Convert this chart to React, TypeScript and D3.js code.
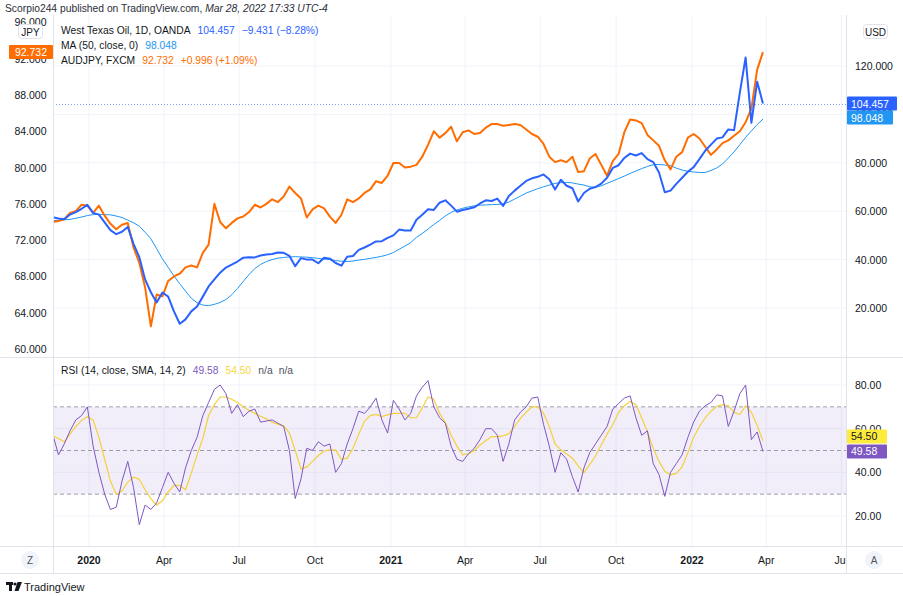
import * as d3 from "d3";

// weekly closes, first week Mon 2019-11-18, last point 2022-03-28
const START = new Date(2019, 10, 18);

const audjpy = [
  74.0, 74.1, 74.3, 75.0, 75.2, 75.9, 75.8, 75.0, 75.8, 74.7,
  73.8, 73.2, 73.7, 73.9, 71.2, 69.5, 66.8, 62.5, 66.0, 65.8,
  67.5, 68.0, 68.3, 69.0, 69.2, 69.0, 70.6, 71.5, 76.0, 74.0,
  73.3, 73.9, 74.4, 74.6, 75.1, 75.9, 75.6, 76.0, 76.5, 76.2,
  76.8, 77.9, 77.2, 76.6, 74.5, 75.4, 75.8, 75.5, 74.6, 73.9,
  74.8, 76.5, 76.2, 76.6, 77.2, 77.6, 78.5, 78.3, 79.1, 80.5,
  80.5, 80.0, 80.1, 80.3, 81.2, 82.5, 84.0, 83.3, 83.8, 84.5,
  82.9, 83.9, 84.1, 83.7, 83.8, 84.4, 84.8, 84.8, 84.6, 84.7,
  84.8, 84.7, 84.2, 83.7, 83.4, 82.6, 81.2, 80.6, 80.8, 80.6,
  81.2, 79.5, 79.6, 81.0, 81.5, 80.3, 79.1, 80.7, 81.5, 83.9,
  85.3, 85.2, 84.9, 83.6, 83.0, 82.4, 80.8, 79.8, 81.2, 81.7,
  83.3, 83.7, 83.2, 82.3, 81.4, 82.0, 82.7, 83.0, 83.5, 84.0,
  85.0, 86.5, 90.8, 92.732,
];

const wti = [
  57.5, 57.0, 56.7, 58.6, 59.6, 61.0, 62.6, 59.3, 58.6, 55.4,
  52.2, 50.5, 51.5, 53.5, 46.5, 41.0, 31.8, 26.5, 22.3, 26.4,
  24.7, 18.6, 13.5, 15.3, 18.6, 20.6, 24.7, 28.9, 31.8, 34.6,
  36.7, 37.9, 39.2, 40.8, 41.0, 40.9, 41.7, 42.1, 42.3, 42.9,
  42.8, 41.5, 37.3, 40.6, 40.0, 40.0, 38.5, 40.8, 40.4, 38.6,
  37.5, 41.2, 41.5, 44.0, 45.0, 46.2, 47.5, 47.6, 49.0, 50.0,
  52.4, 52.0, 52.0, 56.5, 58.5, 60.8, 60.5, 63.5, 64.5, 62.3,
  59.8, 60.5, 61.0, 61.6, 63.2, 64.5, 64.2, 65.2, 62.2, 66.3,
  68.5, 70.5, 72.5, 73.6, 74.2, 75.2, 73.2, 69.0, 73.0, 70.5,
  69.5, 64.0, 67.5, 69.3, 70.0, 71.4, 73.8, 77.9, 79.0, 82.0,
  83.8, 83.0, 84.0, 81.5, 80.3, 76.0, 67.8, 68.5, 71.3, 73.8,
  76.3, 78.2, 81.5, 85.0, 87.5, 90.0, 90.5, 93.8, 93.5, 109.0,
  123.5, 96.5, 113.5, 104.457,
];

const wtiMa50 = [
  56.0, 56.3, 56.5, 56.6, 57.1, 57.6, 58.2, 58.6, 58.7, 58.6,
  58.5, 58.0, 57.4, 56.3, 55.2, 53.8, 51.3, 48.6, 44.5, 40.3,
  36.8, 33.2, 30.0, 27.0, 24.0, 22.2, 21.2, 21.0, 21.5, 22.3,
  23.5, 25.5, 28.0, 31.0, 33.8, 36.3, 38.0, 39.2, 40.0, 40.6,
  40.9, 41.1, 41.2, 41.1, 41.0, 40.8, 40.5, 40.2, 40.0, 39.6,
  39.3, 39.2, 39.4, 39.8, 40.1, 40.5, 40.9, 41.4, 42.0, 42.9,
  44.3, 45.6, 47.0, 49.2, 50.8, 52.6, 54.5, 56.2, 58.0, 59.5,
  60.5, 61.2, 61.8, 62.2, 62.5, 62.6, 62.7, 62.8, 63.0, 63.8,
  65.0, 66.2, 67.5, 68.4, 69.3, 70.1, 70.8, 71.5, 71.8, 71.9,
  71.7, 71.2, 70.8, 70.1, 69.8, 70.5, 71.5, 72.5, 73.5, 74.5,
  75.6, 76.6, 77.6, 78.5, 79.2, 79.3, 79.1, 78.8, 77.8, 77.0,
  76.5, 76.2, 76.0, 76.0, 76.8, 77.9, 79.5, 82.0, 84.5, 87.5,
  90.5, 93.2, 95.8, 98.048,
];

const rsi = [
  57.5, 48, 53, 59, 64, 66, 70, 52, 40, 30,
  23, 24, 36, 45, 33, 16, 25, 23, 26, 33,
  40, 35, 31, 42, 50, 56, 66, 72, 78, 80,
  76, 67, 71, 65.5, 68, 69, 63, 63.5, 64, 62.5,
  61, 50, 28, 37, 51, 50, 54, 52, 53, 40,
  44, 53, 60, 68, 67, 70, 74, 64, 58, 73,
  69, 64, 67, 75, 79, 82, 70, 65, 62.5, 52,
  46, 45, 48.5, 51, 55, 60, 60, 57, 45, 53,
  64, 67.5, 70, 74, 74.5, 62, 52, 40, 49, 46,
  38, 31, 42, 49, 53, 57, 61, 69, 71.5, 74,
  75, 65, 57, 59, 44, 39, 29, 40, 44, 48,
  56, 63, 68, 70.5, 72, 75.5, 75, 61, 68, 76,
  80, 55, 58.5, 49.58,
];

const rsiMa = [
  56.8, 55.5, 54, 57.5, 61, 63.8, 65.5, 64, 56, 46,
  36, 30, 31.5, 35.5, 37.8, 36.8, 32, 28, 25, 27,
  31, 34, 34, 32, 39.5, 48, 55.5, 66, 71, 74.5,
  74.5, 73.5, 72, 70, 68.3, 67, 65.7, 64.5, 63, 62,
  61.3, 58, 50, 41.5, 42.5, 45, 47.7, 49.8, 50.3, 50.2,
  46, 46.5, 51, 57.5, 63.5, 66, 66.5, 65.5, 66.3, 67,
  67, 67, 65, 65, 69.5, 74.5, 73.5, 67, 62.8, 57,
  52, 48, 48.5, 50, 52.5, 54.5, 56.4, 56.4, 56.7, 57.7,
  61, 64.7, 67.5, 70, 70, 67, 61, 53, 50.3, 48.4,
  46.5, 43, 39.8, 43.5, 47.5, 52.5, 57.5, 61.8, 67.5, 70.5,
  72.5, 71, 65, 58.5, 51, 45, 40.5, 38.8, 39.5, 42.5,
  49, 56, 61, 65, 68, 70.3, 71, 70.5, 67.5, 66.5,
  70.5, 67.5, 61.5, 54.5,
];

const jpyTicks = [60, 64, 68, 72, 76, 80, 84, 88, 92, 96];
const usdTicks = [20, 40, 60, 80, 100, 120];
const rsiTicks = [20, 40, 60, 80];
const rsiLevels = [30, 50, 70];
const timeTicks = [
  "2020-01-01", "2020-04-01", "2020-07-01", "2020-10-01",
  "2021-01-01", "2021-04-01", "2021-07-01", "2021-10-01",
  "2022-01-01", "2022-04-01", "2022-07-01",
];
const timeLabels = ["2020", "Apr", "Jul", "Oct", "2021", "Apr", "Jul", "Oct", "2022", "Apr", "Jul"];

const ORANGE = "#ff6d00";
const BLUE = "#2962ff";
const MA = "#2196f3";
const PURPLE = "#7e57c2";
const YELLOW = "#ffeb3b";
const GRID = "#f0f3fa";
const BORDER = "#e0e3eb";
const TEXT = "#131722";
const FONT = "'Liberation Sans', Arial, sans-serif";

const left = 53;
const right = 846;
const top = 15;
const sep = 357;
const rsiBottom = 546;
const axisBottom = 573;

const parse = d3.timeParse("%Y-%m-%d");
const dates = wti.map((_, i) => d3.timeDay.offset(START, i * 7));

function Label({ x, y, text, bg, color, w = 50 }: any) {
  return (
    <g>
      <rect x={x} y={y - 7} width={w} height={14} fill={bg} rx={1} />
      <text x={x + 4} y={y + 4} fontSize={10.5} fill={color}>{text}</text>
    </g>
  );
}

export default function App() {
  const x = d3.scaleTime()
    .domain([new Date(2020, 0, 1), new Date(2022, 0, 1)])
    .range([89, 692]);
  const yJ = d3.scaleLinear().domain([60, 88]).range([349, 95]);
  const yU = d3.scaleLinear().domain([20, 120]).range([308, 66]);
  const yR = d3.scaleLinear().domain([20, 80]).range([516, 385]);

  const lineOf = (vals: number[], y: (v: number) => number) =>
    d3.line<number>().x((_, i) => x(dates[i])).y((v) => y(v))(vals) as string;

  const lastW = wti[wti.length - 1];
  const lastMa = wtiMa50[wtiMa50.length - 1];
  const lastJ = audjpy[audjpy.length - 1];
  const lastR = rsi[rsi.length - 1];
  const lastRm = rsiMa[rsiMa.length - 1];
  const yLastW = yU(lastW);
  const yLastMa = Math.max(yU(lastMa) - 2, yLastW + 14);
  const yLastR = yR(lastR);
  const yLastRm = Math.min(yR(lastRm), yLastR - 15);
  const priceLineY = Math.round(yLastW) + 0.5;

  return (
    <>
      <style>{`body{margin:0;background:#fff}`}</style>
      <svg width={903} height={596} style={{ display: "block", fontFamily: FONT }}>
        <defs>
          <clipPath id="main"><rect x={left} y={top} width={right - left} height={sep - top} /></clipPath>
          <clipPath id="rsi"><rect x={left} y={sep} width={right - left} height={rsiBottom - sep} /></clipPath>
          <clipPath id="time"><rect x={left} y={rsiBottom} width={right - left} height={axisBottom - rsiBottom} /></clipPath>
        </defs>
        <rect width={903} height={596} fill="#fff" />

        {/* header */}
        <text x={5} y={12} fontSize={10.3} fill="#2a2e39">
          Scorpio244 published on TradingView.com, <tspan fontStyle="italic">Mar 28, 2022 17:33 UTC-4</tspan>
        </text>

        {/* grid */}
        {timeTicks.map((t) => (
          <line key={t} x1={x(parse(t)!)} x2={x(parse(t)!)} y1={top} y2={rsiBottom} stroke={GRID} />
        ))}
        {usdTicks.map((v) => (
          <line key={v} x1={left} x2={right} y1={yU(v)} y2={yU(v)} stroke={GRID} />
        ))}
        {rsiTicks.map((v) => (
          <line key={v} x1={left} x2={right} y1={yR(v)} y2={yR(v)} stroke={GRID} />
        ))}

        {/* RSI band */}
        <rect x={left} y={yR(70)} width={right - left} height={yR(30) - yR(70)} fill={PURPLE} fillOpacity={0.1} />
        {rsiLevels.map((v) => (
          <line key={v} x1={left} x2={right} y1={yR(v)} y2={yR(v)} stroke="#787b86" strokeOpacity={0.7} strokeDasharray="4 3" />
        ))}

        {/* main pane */}
        <g clipPath="url(#main)">
          <line x1={left} x2={right} y1={priceLineY} y2={priceLineY} stroke={BLUE} strokeOpacity={0.6} strokeDasharray="1 2" />
          <path d={lineOf(wtiMa50, yU)} fill="none" stroke={MA} strokeWidth={1} />
          <path d={lineOf(audjpy, yJ)} fill="none" stroke={ORANGE} strokeWidth={2} strokeLinejoin="round" />
          <path d={lineOf(wti, yU)} fill="none" stroke={BLUE} strokeWidth={2} strokeLinejoin="round" />
        </g>

        {/* rsi pane */}
        <g clipPath="url(#rsi)">
          <path d={lineOf(rsiMa, yR)} fill="none" stroke="#f5d03c" strokeWidth={1.2} />
          <path d={lineOf(rsi, yR)} fill="none" stroke={PURPLE} strokeWidth={1} />
        </g>

        {/* borders */}
        <line x1={left + 0.5} x2={left + 0.5} y1={top} y2={axisBottom} stroke={BORDER} />
        <line x1={right + 0.5} x2={right + 0.5} y1={top} y2={axisBottom} stroke={BORDER} />
        <line x1={0} x2={903} y1={sep + 0.5} y2={sep + 0.5} stroke={BORDER} />
        <line x1={0} x2={903} y1={rsiBottom + 0.5} y2={rsiBottom + 0.5} stroke={BORDER} />
        <line x1={0} x2={903} y1={axisBottom + 0.5} y2={axisBottom + 0.5} stroke={BORDER} />

        {/* left axis (JPY) */}
        {jpyTicks.map((v) => (
          <text key={v} x={30.5} y={yJ(v) + 4} fontSize={10.5} fill={TEXT} textAnchor="middle">
            {v.toFixed(3)}
          </text>
        ))}
        <rect x={18.5} y={24.5} width={24} height={14} rx={3} fill="#fff" stroke={BORDER} />
        <text x={30.5} y={35.5} fontSize={10} fill={TEXT} textAnchor="middle">JPY</text>
        <rect x={9} y={yJ(lastJ) - 7} width={44} height={14} fill={ORANGE} rx={1} />
        <text x={31} y={yJ(lastJ) + 4} fontSize={10.5} fill="#fff" textAnchor="middle">{lastJ.toFixed(3)}</text>

        {/* right axis (USD) */}
        {usdTicks.map((v) => (
          <text key={v} x={855} y={yU(v) + 4} fontSize={10.5} fill={TEXT}>{v.toFixed(3)}</text>
        ))}
        <rect x={863.5} y={24.5} width={24} height={14} rx={3} fill="#fff" stroke={BORDER} />
        <text x={875.5} y={35.5} fontSize={10} fill={TEXT} textAnchor="middle">USD</text>
        <Label x={847} y={yLastW} w={50} text={lastW.toFixed(3)} bg={BLUE} color="#fff" />
        <Label x={847} y={yLastMa} w={46} text={lastMa.toFixed(3)} bg={MA} color="#fff" />

        {/* RSI axis */}
        {rsiTicks.map((v) => (
          <text key={v} x={855} y={yR(v) + 4} fontSize={10.5} fill={TEXT}>{v.toFixed(2)}</text>
        ))}
        <Label x={847} y={yLastRm} w={40} text={lastRm.toFixed(2)} bg={YELLOW} color={TEXT} />
        <Label x={847} y={yLastR} w={40} text={lastR.toFixed(2)} bg={PURPLE} color="#fff" />

        {/* legends */}
        <text x={61} y={34} fontSize={10.3} fill={TEXT}>
          West Texas Oil, 1D, OANDA
          <tspan dx={7} fill={BLUE}>{lastW.toFixed(3)}</tspan>
          <tspan dx={7} fill={BLUE}>−9.431 (−8.28%)</tspan>
        </text>
        <text x={61} y={49} fontSize={10.3} fill={TEXT}>
          MA (50, close, 0)
          <tspan dx={7} fill={MA}>{lastMa.toFixed(3)}</tspan>
        </text>
        <text x={61} y={64} fontSize={10.3} fill={TEXT}>
          AUDJPY, FXCM
          <tspan dx={7} fill={ORANGE}>{lastJ.toFixed(3)}</tspan>
          <tspan dx={7} fill={ORANGE}>+0.996 (+1.09%)</tspan>
        </text>
        <text x={61} y={374} fontSize={10.3} fill={TEXT}>
          RSI (14, close, SMA, 14, 2)
          <tspan dx={7} fill={PURPLE}>{lastR.toFixed(2)}</tspan>
          <tspan dx={7} fill="#f5d63d">{lastRm.toFixed(2)}</tspan>
          <tspan dx={7} fill="#50535e">n/a</tspan>
          <tspan dx={6} fill="#50535e">n/a</tspan>
        </text>

        {/* time axis */}
        <g clipPath="url(#time)">
          {timeTicks.map((t, i) => (
            <text key={t} x={x(parse(t)!)} y={564} fontSize={10.5} fill={TEXT} textAnchor="middle"
              fontWeight={timeLabels[i].length === 4 ? "bold" : "normal"}>
              {timeLabels[i]}
            </text>
          ))}
        </g>
        <circle cx={30} cy={560} r={9} fill="#f0f3fa" />
        <text x={30} y={564} fontSize={10} fill="#50535e" textAnchor="middle">Z</text>
        <circle cx={874} cy={560} r={9} fill="#f0f3fa" />
        <text x={874} y={564} fontSize={10} fill="#50535e" textAnchor="middle">A</text>

        {/* footer logo */}
        <g fill={TEXT}>
          <rect x={6} y={582} width={7} height={3} />
          <rect x={9} y={582} width={3} height={9} />
          <circle cx={15} cy={584} r={1.6} />
          <path d="M17.5 582 L22 582 L18.5 591 L14.5 591 Z" />
        </g>
        <text x={24} y={591} fontSize={11} fill={TEXT}>TradingView</text>
      </svg>
    </>
  );
}
